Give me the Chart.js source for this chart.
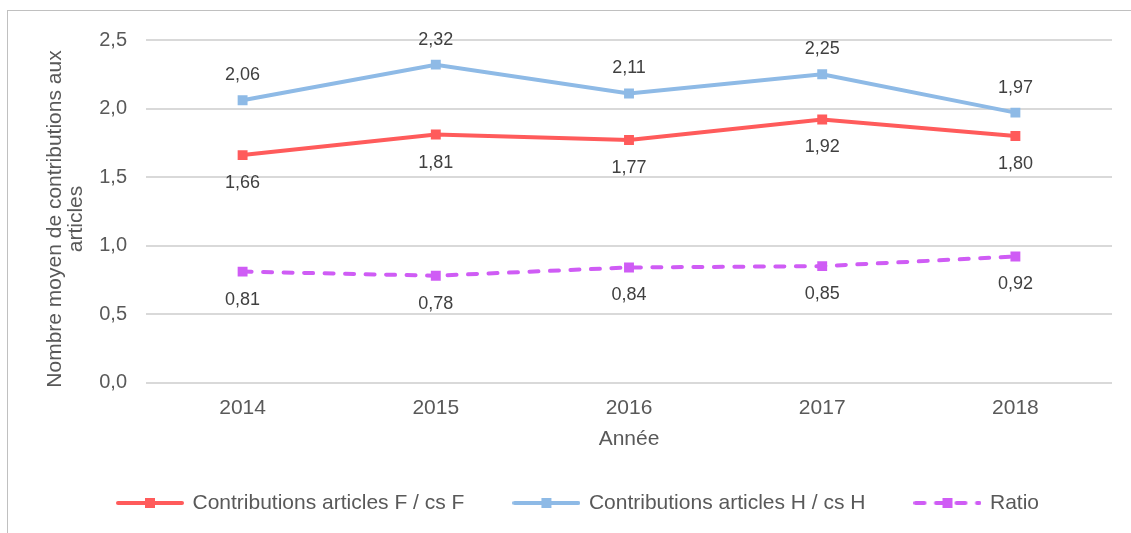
<!DOCTYPE html>
<html><head><meta charset="utf-8">
<script src="https://cdn.jsdelivr.net/npm/chart.js@4.4.1/dist/chart.umd.min.js"></script>
<style>
html,body{margin:0;padding:0;background:#fff;overflow:hidden}
#wrap{position:relative;width:1131px;height:533px}
#frame{position:absolute;left:7px;top:10px;width:1200px;height:600px;border:1px solid #c0c0c0;box-sizing:border-box}
#c{position:absolute;left:0;top:0}
</style></head><body>
<div id="wrap"><div id="frame"></div><canvas id="c" width="1131" height="533"></canvas></div>
<script>
const years = ['2014', '2015', '2016', '2017', '2018'];
const contribF = [1.66, 1.81, 1.77, 1.92, 1.80];
const contribH = [2.06, 2.32, 2.11, 2.25, 1.97];
const ratio = [0.81, 0.78, 0.84, 0.85, 0.92];
const seriesNames = ['Contributions articles F / cs F', 'Contributions articles H / cs H', 'Ratio'];
const yMin = 0, yMax = 2.5, yStep = 0.5;
const yTitleLines = ['Nombre moyen de contributions aux', 'articles'];
const xTitle = 'Année';

const RED = '#ff5b5b', BLUE = '#8ebae6', PURPLE = '#cf5cf5';
const TXT = '#595959', FONT = "'Liberation Sans', Arial, sans-serif";
const comma = (v, d) => v.toFixed(d).replace('.', ',');

function legendIcon(color, dashed) {
  const c = document.createElement('canvas');
  c.width = 68; c.height = 12;
  const g = c.getContext('2d');
  g.strokeStyle = color; g.lineWidth = 4; g.lineCap = 'round';
  if (dashed) g.setLineDash([9, 11.5]);
  g.beginPath(); g.moveTo(2, 6); g.lineTo(66, 6); g.stroke();
  g.fillStyle = color; g.fillRect(29, 1, 10, 10);
  return c;
}
const icons = [legendIcon(RED, false), legendIcon(BLUE, false), legendIcon(PURPLE, true)];

const labelPlugin = {
  id: 'valueLabels',
  afterDatasetsDraw(chart) {
    const ctx = chart.ctx;
    ctx.save();
    ctx.font = "18px " + FONT;
    ctx.fillStyle = '#404040';
    ctx.textAlign = 'center';
    ctx.textBaseline = 'middle';
    chart.data.datasets.forEach((ds, di) => {
      const meta = chart.getDatasetMeta(di);
      meta.data.forEach((pt, i) => {
        const dy = ds.labelPos === 'above' ? -25 : 28;
        ctx.fillText(comma(ds.data[i], 2), pt.x, pt.y + dy);
      });
    });
    ctx.restore();
  }
};

const yTitlePlugin = {
  id: 'yTitle',
  afterDraw(chart) {
    const ctx = chart.ctx;
    ctx.save();
    ctx.font = "21px " + FONT;
    ctx.fillStyle = TXT;
    ctx.textAlign = 'center';
    ctx.textBaseline = 'middle';
    const cy = 219;
    const xs = [55, 76];
    yTitleLines.forEach((t, i) => {
      ctx.save();
      ctx.translate(xs[i], cy);
      ctx.rotate(-Math.PI / 2);
      ctx.fillText(t, 0, 0);
      ctx.restore();
    });
    ctx.restore();
  }
};

new Chart(document.getElementById('c'), {
  type: 'line',
  data: {
    labels: years,
    datasets: [
      { label: seriesNames[0], data: contribF, borderColor: RED, backgroundColor: RED, borderWidth: 4,
        pointStyle: 'rect', pointRadius: 7, pointBorderWidth: 0, pointBackgroundColor: RED, tension: 0, labelPos: 'below' },
      { label: seriesNames[1], data: contribH, borderColor: BLUE, backgroundColor: BLUE, borderWidth: 4,
        pointStyle: 'rect', pointRadius: 7, pointBorderWidth: 0, pointBackgroundColor: BLUE, tension: 0, labelPos: 'above' },
      { label: seriesNames[2], data: ratio, borderColor: PURPLE, backgroundColor: PURPLE, borderWidth: 4,
        borderDash: [9, 11.5], borderCapStyle: 'round',
        pointStyle: 'rect', pointRadius: 7, pointBorderWidth: 0, pointBackgroundColor: PURPLE, tension: 0, labelPos: 'below' }
    ]
  },
  options: {
    responsive: false,
    animation: false,
    devicePixelRatio: 1,
    layout: { padding: { top: 40, right: 19, left: 45, bottom: 9.5 } },
    scales: {
      x: {
        type: 'category',
        offset: true,
        grid: { display: false, drawTicks: false },
        border: { display: false },
        ticks: { color: TXT, font: { size: 21, family: FONT }, padding: 13.4 },
        title: { display: true, text: xTitle, color: TXT, font: { size: 21, family: FONT }, padding: { top: -8.2, bottom: -9.1 } }
      },
      y: {
        min: yMin, max: yMax,
        afterFit(scale) { scale.width = 101; },
        grid: { color: '#d9d9d9', lineWidth: 2, drawTicks: false },
        border: { display: false },
        ticks: { stepSize: yStep, color: TXT, font: { size: 20, family: FONT }, padding: 19,
                 callback: v => comma(v, 1) },
        title: { display: false }
      }
    },
    plugins: {
      legend: {
        position: 'bottom',
        labels: {
          usePointStyle: true,
          pointStyleWidth: 64,
          padding: 50,
          color: TXT,
          font: { size: 21, family: FONT },
          generateLabels(chart) {
            const items = Chart.defaults.plugins.legend.labels.generateLabels(chart);
            items.forEach((it, i) => { it.pointStyle = icons[i]; it.lineWidth = 0; it.strokeStyle = 'rgba(0,0,0,0)'; });
            return items;
          }
        }
      },
      tooltip: { enabled: false }
    }
  },
  plugins: [labelPlugin, yTitlePlugin]
});
</script>
</body></html>
